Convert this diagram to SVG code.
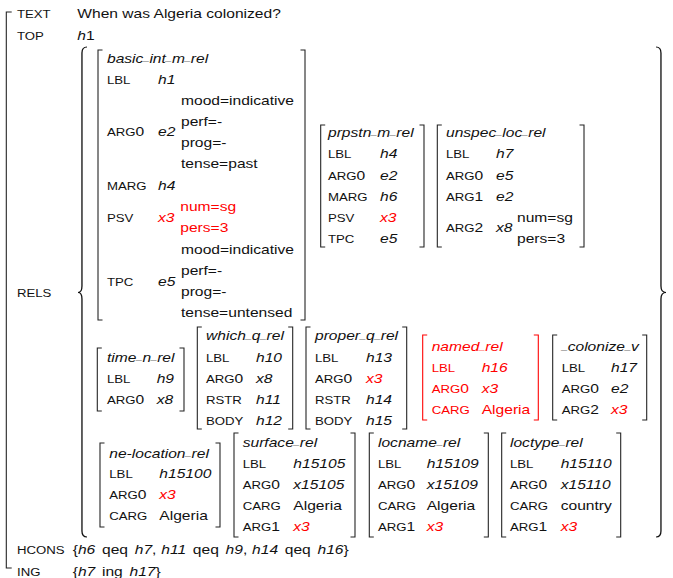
<svg xmlns="http://www.w3.org/2000/svg" width="673" height="578" viewBox="0 0 673 578">
<style>
  text { font-family: "Liberation Sans", Arial, sans-serif; font-size: 13px; fill: #111; }
  .k { font-size: 11px; }
  .k .d { font-size: 13px; }
  .i { font-style: italic; }
  .r { fill: #f00; }
  .u { font-size: 9px; }
  .ws { word-spacing: 2px; }
  .br { fill: none; stroke: #222; stroke-width: 0.9; }
  .rb { fill: none; stroke: #f00; stroke-width: 0.9; }
  .brace { fill: none; stroke: #111; stroke-width: 1.1; }
</style>
<rect width="673" height="578" fill="#fff"/>
<!-- the whole feature structure is set in a horizontally widened type frame -->
<g transform="scale(1.2 1)">

  <!-- outer matrix: TEXT / TOP / RELS / HCONS / ING -->
  <g id="mrs">
    <path class="br" d="M9.75,12H5.25V568H9.75"/>
    <text class="k" x="14.17" y="18.5">TEXT</text>
    <text x="64.4" y="18.5">When was Algeria colonized?</text>
    <text class="k" x="14.17" y="40">TOP</text>
    <text x="64.4" y="40"><tspan class="i">h</tspan>1</text>
    <text class="k" x="14.17" y="297">RELS</text>
    <text class="k" x="14.17" y="554">HCONS</text>
    <text class="ws" x="60.6" y="554">{<tspan class="i">h6</tspan> qeq <tspan class="i">h7</tspan>,<tspan class="i" dx="4">h11</tspan> qeq <tspan class="i">h9</tspan>,<tspan class="i" dx="4">h14</tspan> qeq <tspan class="i">h16</tspan>}</text>
    <text class="k" x="14.17" y="576">ING</text>
    <text class="ws" x="60.6" y="576">{<tspan class="i">h7</tspan> ing <tspan class="i">h17</tspan>}</text>
  </g>

  <!-- set braces around the RELS list -->
  <g id="rels-braces">
    <path class="brace" d="M72.5,47Q68.3,47 68.3,53V286Q68.3,292.5 65,292.5Q68.3,292.5 68.3,299V531Q68.3,537 72.5,537"/>
    <path class="brace" d="M546.7,47Q550.8,47 550.8,53V286Q550.8,292.5 555,292.5Q550.8,292.5 550.8,299V531Q550.8,537 546.7,537"/>
  </g>

  <!-- connectors: none in this structure -->
  <g id="connectors"/>

  <g id="basic_int_m_rel">
    <path class="br" d="M85.42,50H81.67V320H85.42M250.42,50H254.17V320H250.42"/>
    <text class="i" x="89.17" y="63">basic<tspan class="u" dy="-1.6">_</tspan><tspan dy="1.6">int</tspan><tspan class="u" dy="-1.6">_</tspan><tspan dy="1.6">m</tspan><tspan class="u" dy="-1.6">_</tspan><tspan dy="1.6">rel</tspan></text>
    <text class="k" x="89.17" y="84">LBL</text><text class="i" x="131.67" y="84">h1</text>
    <text x="150.83" y="105">mood=indicative</text>
    <text x="150.83" y="126">perf=-</text>
    <text class="k" x="89.17" y="136">ARG<tspan class="d">0</tspan></text><text class="i" x="131.67" y="136">e2</text>
    <text x="150.83" y="147">prog=-</text>
    <text x="150.83" y="168">tense=past</text>
    <text class="k" x="89.17" y="190">MARG</text><text class="i" x="131.67" y="190">h4</text>
    <text class="r" x="150.2" y="211.5">num=sg</text>
    <text class="k" x="89.17" y="222">PSV</text><text class="i r" x="131.67" y="222">x3</text>
    <text class="r" x="150.2" y="232.5">pers=3</text>
    <text x="150.83" y="254">mood=indicative</text>
    <text x="150.83" y="275">perf=-</text>
    <text class="k" x="89.17" y="286">TPC</text><text class="i" x="131.67" y="286">e5</text>
    <text x="150.83" y="296">prog=-</text>
    <text x="150.83" y="317">tense=untensed</text>
  </g>

  <g id="prpstn_m_rel">
    <path class="br" d="M271,125H267.25V247H271M349.58,125H353.33V247H349.58"/>
    <text class="i" x="273.33" y="137">prpstn<tspan class="u" dy="-1.6">_</tspan><tspan dy="1.6">m</tspan><tspan class="u" dy="-1.6">_</tspan><tspan dy="1.6">rel</tspan></text>
    <text class="k" x="273.33" y="158.3">LBL</text><text class="i" x="316.67" y="158.3">h4</text>
    <text class="k" x="273.33" y="179.6">ARG<tspan class="d">0</tspan></text><text class="i" x="316.67" y="179.6">e2</text>
    <text class="k" x="273.33" y="200.9">MARG</text><text class="i" x="316.67" y="200.9">h6</text>
    <text class="k" x="273.33" y="222.2">PSV</text><text class="i r" x="316.67" y="222.2">x3</text>
    <text class="k" x="273.33" y="243.5">TPC</text><text class="i" x="316.67" y="243.5">e5</text>
  </g>

  <g id="unspec_loc_rel">
    <path class="br" d="M368.17,125H364.42V247H368.17M482.92,125H486.67V247H482.92"/>
    <text class="i" x="371.67" y="137">unspec<tspan class="u" dy="-1.6">_</tspan><tspan dy="1.6">loc</tspan><tspan class="u" dy="-1.6">_</tspan><tspan dy="1.6">rel</tspan></text>
    <text class="k" x="371.67" y="158.3">LBL</text><text class="i" x="413.33" y="158.3">h7</text>
    <text class="k" x="371.67" y="179.6">ARG<tspan class="d">0</tspan></text><text class="i" x="413.33" y="179.6">e5</text>
    <text class="k" x="371.67" y="200.9">ARG<tspan class="d">1</tspan></text><text class="i" x="413.33" y="200.9">e2</text>
    <text class="k" x="371.67" y="232.5">ARG<tspan class="d">2</tspan></text><text class="i" x="413.33" y="232.5">x8</text>
    <text x="430.83" y="222">num=sg</text>
    <text x="430.83" y="243">pers=3</text>
  </g>

  <g id="time_n_rel">
    <path class="br" d="M84.83,348H81.08V411H84.83M149.58,348H153.33V411H149.58"/>
    <text class="i" x="89.17" y="362">time<tspan class="u" dy="-1.6">_</tspan><tspan dy="1.6">n</tspan><tspan class="u" dy="-1.6">_</tspan><tspan dy="1.6">rel</tspan></text>
    <text class="k" x="89.17" y="383">LBL</text><text class="i" x="130.58" y="383">h9</text>
    <text class="k" x="89.17" y="404">ARG<tspan class="d">0</tspan></text><text class="i" x="130.58" y="404">x8</text>
  </g>

  <g id="which_q_rel">
    <path class="br" d="M168.17,327H164.42V429H168.17M240.17,327H243.92V429H240.17"/>
    <text class="i" x="171.67" y="340.5">which<tspan class="u" dy="-1.6">_</tspan><tspan dy="1.6">q</tspan><tspan class="u" dy="-1.6">_</tspan><tspan dy="1.6">rel</tspan></text>
    <text class="k" x="171.67" y="361.7">LBL</text><text class="i" x="213.33" y="361.7">h10</text>
    <text class="k" x="171.67" y="383">ARG<tspan class="d">0</tspan></text><text class="i" x="213.33" y="383">x8</text>
    <text class="k" x="171.67" y="404">RSTR</text><text class="i" x="213.33" y="404">h11</text>
    <text class="k" x="171.67" y="425">BODY</text><text class="i" x="213.33" y="425">h12</text>
  </g>

  <g id="proper_q_rel">
    <path class="br" d="M258.75,327H255V429H258.75M335.17,327H338.92V429H335.17"/>
    <text class="i" x="262.5" y="340.5">proper<tspan class="u" dy="-1.6">_</tspan><tspan dy="1.6">q</tspan><tspan class="u" dy="-1.6">_</tspan><tspan dy="1.6">rel</tspan></text>
    <text class="k" x="262.5" y="361.7">LBL</text><text class="i" x="305" y="361.7">h13</text>
    <text class="k" x="262.5" y="383">ARG<tspan class="d">0</tspan></text><text class="i r" x="305" y="383">x3</text>
    <text class="k" x="262.5" y="404">RSTR</text><text class="i" x="305" y="404">h14</text>
    <text class="k" x="262.5" y="425">BODY</text><text class="i" x="305" y="425">h15</text>
  </g>

  <g id="named_rel">
    <path class="rb" d="M356,335H352.25V420H356M444.83,335H448.58V420H444.83"/>
    <text class="i r" x="359.75" y="351.5">named<tspan class="u" dy="-1.6">_</tspan><tspan dy="1.6">rel</tspan></text>
    <text class="k r" x="359.75" y="372.5">LBL</text><text class="i r" x="401.42" y="372.5">h16</text>
    <text class="k r" x="359.75" y="393.5">ARG<tspan class="d">0</tspan></text><text class="i r" x="401.42" y="393.5">x3</text>
    <text class="k r" x="359.75" y="414.5">CARG</text><text class="r" x="401.42" y="414.5">Algeria</text>
  </g>

  <g id="_colonize_v">
    <path class="br" d="M464.33,335H460.58V420H464.33M535.17,335H538.92V420H535.17"/>
    <text class="i" x="468.08" y="351.5"><tspan class="u" dy="-1.6">_</tspan><tspan dy="1.6">colonize</tspan><tspan class="u" dy="-1.6">_</tspan><tspan dy="1.6">v</tspan></text>
    <text class="k" x="468.08" y="372.5">LBL</text><text class="i" x="509.17" y="372.5">h17</text>
    <text class="k" x="468.08" y="393.5">ARG<tspan class="d">0</tspan></text><text class="i" x="509.17" y="393.5">e2</text>
    <text class="k" x="468.08" y="414.5">ARG<tspan class="d">2</tspan></text><text class="i r" x="509.17" y="414.5">x3</text>
  </g>

  <g id="ne-location_rel">
    <path class="br" d="M87.08,443H83.33V527H87.08M179.58,443H183.33V527H179.58"/>
    <text class="i" x="91.08" y="458">ne-location<tspan class="u" dy="-1.6">_</tspan><tspan dy="1.6">rel</tspan></text>
    <text class="k" x="91.08" y="478.5">LBL</text><text class="i" x="132.75" y="478.5">h15100</text>
    <text class="k" x="91.08" y="499.5">ARG<tspan class="d">0</tspan></text><text class="i r" x="132.75" y="499.5">x3</text>
    <text class="k" x="91.08" y="520.5">CARG</text><text x="132.75" y="520.5">Algeria</text>
  </g>

  <g id="surface_rel">
    <path class="br" d="M198.75,433H195V537H198.75M292.08,433H295.83V537H292.08"/>
    <text class="i" x="202.25" y="446.7">surface<tspan class="u" dy="-1.6">_</tspan><tspan dy="1.6">rel</tspan></text>
    <text class="k" x="202.25" y="468">LBL</text><text class="i" x="244.42" y="468">h15105</text>
    <text class="k" x="202.25" y="489">ARG<tspan class="d">0</tspan></text><text class="i" x="244.42" y="489">x15105</text>
    <text class="k" x="202.25" y="510">CARG</text><text x="244.42" y="510">Algeria</text>
    <text class="k" x="202.25" y="531.5">ARG<tspan class="d">1</tspan></text><text class="i r" x="244.42" y="531.5">x3</text>
  </g>

  <g id="locname_rel">
    <path class="br" d="M311.5,433H307.75V537H311.5M403.17,433H406.92V537H403.17"/>
    <text class="i" x="315" y="446.7">locname<tspan class="u" dy="-1.6">_</tspan><tspan dy="1.6">rel</tspan></text>
    <text class="k" x="315" y="468">LBL</text><text class="i" x="355.58" y="468">h15109</text>
    <text class="k" x="315" y="489">ARG<tspan class="d">0</tspan></text><text class="i" x="355.58" y="489">x15109</text>
    <text class="k" x="315" y="510">CARG</text><text x="355.58" y="510">Algeria</text>
    <text class="k" x="315" y="531.5">ARG<tspan class="d">1</tspan></text><text class="i r" x="355.58" y="531.5">x3</text>
  </g>

  <g id="loctype_rel">
    <path class="br" d="M421.83,433H418.08V537H421.83M513.5,433H517.25V537H513.5"/>
    <text class="i" x="425" y="446.7">loctype<tspan class="u" dy="-1.6">_</tspan><tspan dy="1.6">rel</tspan></text>
    <text class="k" x="425" y="468">LBL</text><text class="i" x="467.25" y="468">h15110</text>
    <text class="k" x="425" y="489">ARG<tspan class="d">0</tspan></text><text class="i" x="467.25" y="489">x15110</text>
    <text class="k" x="425" y="510">CARG</text><text x="467.25" y="510">country</text>
    <text class="k" x="425" y="531.5">ARG<tspan class="d">1</tspan></text><text class="i r" x="467.25" y="531.5">x3</text>
  </g>
</g>
</svg>
